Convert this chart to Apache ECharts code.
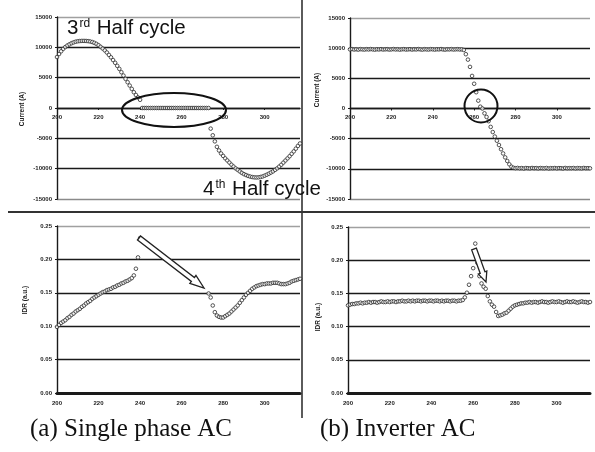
<!DOCTYPE html>
<html>
<head>
<meta charset="utf-8">
<script src="https://cdn.jsdelivr.net/npm/echarts@6/dist/echarts.min.js"></script>
<style>
html,body{margin:0;padding:0;background:#fff;}
#c{width:595px;height:452px;}
</style>
</head>
<body>
<div id="c"></div>
<script>
// ---- data ----
const timeStart = 200;      // first sample (x axis units)
const timeStep = 1;         // sampling step
const xTicks = [200, 220, 240, 260, 280, 300];

// (a) Single phase AC - current (A), samples from 200 to 317
const currentSingle = [
  8400, 8900, 9350, 9750, 10050, 10300, 10500, 10680, 10820, 10930,
  11000, 11040, 11060, 11060, 11050, 11020, 10960, 10870, 10740, 10570,
  10350, 10080, 9800, 9500, 9150, 8750, 8350, 7900, 7450, 6950,
  6450, 5900, 5350, 4800, 4250, 3700, 3150, 2600, 2150, 1750,
  1350, 0, 0, 0, 0, 0, 0, 0, 0, 0,
  0, 0, 0, 0, 0, 0, 0, 0, 0, 0,
  0, 0, 0, 0, 0, 0, 0, 0, 0, 0,
  0, 0, 0, 0, -3400, -4500, -5500, -6400, -7000, -7500,
  -7900, -8300, -8650, -9000, -9350, -9650, -9950, -10200, -10450, -10700,
  -10900, -11050, -11200, -11300, -11380, -11430, -11450, -11430, -11370, -11280,
  -11150, -11000, -10830, -10640, -10450, -10200, -9950, -9650, -9350, -9000,
  -8650, -8300, -7950, -7550, -7150, -6700, -6250, -5850
];

// (b) Inverter AC - current (A), samples from 200 to 316
const currentInverter = [
  9800, 9850, 9780, 9820, 9760, 9840, 9800, 9770, 9830, 9790,
  9850, 9800, 9760, 9820, 9790, 9840, 9780, 9810, 9830, 9770,
  9800, 9850, 9790, 9820, 9760, 9810, 9840, 9780, 9800, 9830,
  9770, 9820, 9790, 9850, 9800, 9760, 9830, 9800, 9780, 9840,
  9810, 9770, 9820, 9800, 9850, 9790, 9760, 9820, 9800, 9840,
  9780, 9810, 9830, 9790, 9800, 9700, 9000, 8100, 6900, 5400,
  4100, 2700, 1300, 300, 0, -800, -1400, -2100, -3050, -3900,
  -4650, -5340, -6050, -6750, -7450, -8100, -8700, -9250, -9650, -9830,
  -9900, -9850, -9920, -9880, -9950, -9870, -9900, -9930, -9860, -9910,
  -9880, -9940, -9870, -9900, -9920, -9860, -9950, -9890, -9910, -9870,
  -9930, -9880, -9900, -9950, -9860, -9920, -9890, -9910, -9870, -9940,
  -9880, -9900, -9930, -9860, -9910, -9890, -9920
];

// (a) Single phase AC - IDR (a.u.), first part 200..240, second part 273..317
const idrSingleStartA = 200;
const idrSingleA = [
  0.099, 0.102, 0.105, 0.107, 0.109, 0.112, 0.114, 0.117, 0.119, 0.122,
  0.124, 0.126, 0.129, 0.131, 0.134, 0.136, 0.138, 0.141, 0.143, 0.145,
  0.147, 0.149, 0.151, 0.152, 0.154, 0.155, 0.156, 0.158, 0.159, 0.161,
  0.162, 0.164, 0.165, 0.167, 0.168, 0.170, 0.172, 0.176, 0.186, 0.203,
  0.232
];
const idrSingleStartB = 273;
const idrSingleB = [
  0.149, 0.143, 0.131, 0.121, 0.116, 0.114, 0.113, 0.113, 0.115, 0.117,
  0.119, 0.122, 0.125, 0.128, 0.131, 0.135, 0.139, 0.143, 0.147, 0.150,
  0.153, 0.156, 0.158, 0.160, 0.161, 0.162, 0.163, 0.163, 0.164, 0.164,
  0.164, 0.165, 0.165, 0.165, 0.164, 0.163, 0.163, 0.163, 0.164, 0.165,
  0.167, 0.168, 0.169, 0.170, 0.171
];

// (b) Inverter AC - IDR (a.u.), samples from 200 to 316
const idrInverter = [
  0.132, 0.133, 0.134, 0.134, 0.135, 0.135, 0.136, 0.135, 0.136, 0.136,
  0.137, 0.136, 0.137, 0.137, 0.136, 0.137, 0.138, 0.137, 0.137, 0.138,
  0.137, 0.138, 0.138, 0.137, 0.138, 0.138, 0.139, 0.138, 0.138, 0.139,
  0.138, 0.139, 0.138, 0.139, 0.139, 0.138, 0.139, 0.139, 0.138, 0.139,
  0.139, 0.138, 0.139, 0.139, 0.138, 0.139, 0.138, 0.139, 0.139, 0.138,
  0.139, 0.139, 0.138, 0.139, 0.139, 0.140, 0.144, 0.151, 0.163, 0.176,
  0.188, 0.225, 0.196, 0.176, 0.165, 0.160, 0.157, 0.146, 0.138, 0.133,
  0.130, 0.122, 0.116, 0.117, 0.118, 0.120, 0.121, 0.124, 0.127, 0.130,
  0.132, 0.133, 0.134, 0.135, 0.135, 0.136, 0.136, 0.137, 0.136, 0.137,
  0.137, 0.136, 0.137, 0.138, 0.137, 0.137, 0.136, 0.137, 0.138, 0.137,
  0.137, 0.138, 0.137, 0.136, 0.137, 0.138, 0.137, 0.137, 0.138, 0.137,
  0.136, 0.137, 0.138, 0.137, 0.137, 0.136, 0.137
];

const currentTicks = [-15000, -10000, -5000, 0, 5000, 10000, 15000];
const idrTicks = [0.00, 0.05, 0.10, 0.15, 0.20, 0.25];
const yNameCurrent = 'Current (A)';
const yNameIdr = 'IDR (a.u.)';
const captionA = '(a) Single phase AC';
const captionB = '(b) Inverter AC';

// ---- build ----
function pairs(start, vals) {
  return vals.map((v, i) => [start + i * timeStep, v]);
}

const chart = echarts.init(document.getElementById('c'), null, {renderer: 'canvas'});
const ink = '#1a1a1a';
const labelStyle = {fontSize: 6, color: '#222', fontWeight: 'bold', fontFamily: 'Liberation Sans, Arial, sans-serif'};

function xAxisCfg(gi, max, labelMargin, lineW, visible) {
  return {
    type: 'value', gridIndex: gi, min: xTicks[0], max: max, interval: 20,
    show: visible,
    axisLine: {onZero: false, lineStyle: {color: ink, width: lineW}},
    axisTick: {show: true, length: 2, inside: false, lineStyle: {color: ink}},
    axisLabel: Object.assign({margin: labelMargin, showMaxLabel: false,
      formatter: v => (xTicks.indexOf(v) >= 0 ? String(v) : '')}, labelStyle),
    splitLine: {show: false}
  };
}
function yAxisCfg(gi, ticks, dec) {
  const n = ticks.length;
  const colors = ticks.map((t, i) => (i === n - 1 ? '#a0a0a0' : (i === 0 ? '#8a8a8a' : ink)));
  return {
    type: 'value', gridIndex: gi, min: ticks[0], max: ticks[n - 1],
    interval: ticks[1] - ticks[0],
    axisLine: {show: true, onZero: false, lineStyle: {color: ink, width: 1.4}},
    axisTick: {show: true, length: 2, lineStyle: {color: ink}},
    axisLabel: Object.assign({margin: 5, formatter: v => dec ? v.toFixed(2) : String(v)}, labelStyle),
    splitLine: {show: true, lineStyle: {color: colors, width: 1.3}}
  };
}
function hiddenY(gi) {
  return {type: 'value', gridIndex: gi, min: 0, max: 1, show: false};
}
function dots(xi, yi, data) {
  return {
    type: 'scatter', xAxisIndex: xi, yAxisIndex: yi, data: data,
    symbol: 'circle', symbolSize: 3.6,
    itemStyle: {color: '#fff', borderColor: '#2a2a2a', borderWidth: 1},
    silent: true, animation: false
  };
}

function hollowArrow(x1, y1, x2, y2, sw, hw, hl) {
  const dx = x2 - x1, dy = y2 - y1, L = Math.hypot(dx, dy);
  const ux = dx / L, uy = dy / L, nx = -uy, ny = ux;
  const bx = x2 - ux * hl, by = y2 - uy * hl;
  return [
    [x1 + nx * sw / 2, y1 + ny * sw / 2],
    [bx + nx * sw / 2, by + ny * sw / 2],
    [bx + nx * hw / 2, by + ny * hw / 2],
    [x2, y2],
    [bx - nx * hw / 2, by - ny * hw / 2],
    [bx - nx * sw / 2, by - ny * sw / 2],
    [x1 - nx * sw / 2, y1 - ny * sw / 2]
  ];
}

const serifFont = '"Liberation Serif", "DejaVu Serif", serif';
const sansFont = '"Liberation Sans", Arial, sans-serif';

const option = {
  backgroundColor: '#ffffff',
  animation: false,
  grid: [
    {left: 57, right: 295, top: 17, bottom: 253},
    {left: 350, right: 5, top: 18, bottom: 253},
    {left: 57, right: 295, top: 226, bottom: 59},
    {left: 348, right: 5, top: 227, bottom: 59},
    // upper halves of the current panels: their x axes cross at 0 A
    {left: 57, right: 295, top: 17, bottom: 344},
    {left: 350, right: 5, top: 18, bottom: 343.5}
  ],
  xAxis: [
    xAxisCfg(0, 317, 5, 1.4, false),
    xAxisCfg(1, 316, 5, 1.4, false),
    xAxisCfg(2, 317, 7, 3, true),
    xAxisCfg(3, 316, 7, 3, true),
    xAxisCfg(4, 317, 6, 1.4, true),
    xAxisCfg(5, 316, 6, 1.4, true)
  ],
  yAxis: [
    yAxisCfg(0, currentTicks, false),
    yAxisCfg(1, currentTicks, false),
    yAxisCfg(2, idrTicks, true),
    yAxisCfg(3, idrTicks, true),
    hiddenY(4),
    hiddenY(5)
  ],
  series: [
    dots(0, 0, pairs(timeStart, currentSingle)),
    dots(1, 1, pairs(timeStart, currentInverter)),
    dots(2, 2, pairs(idrSingleStartA, idrSingleA)),
    dots(2, 2, pairs(idrSingleStartB, idrSingleB)),
    dots(3, 3, pairs(timeStart, idrInverter))
  ],
  graphic: [
    // panel dividers
    {type: 'line', shape: {x1: 302, y1: 0, x2: 302, y2: 418}, style: {stroke: '#333', lineWidth: 1.6}},
    {type: 'line', shape: {x1: 8, y1: 212, x2: 595, y2: 212}, style: {stroke: '#333', lineWidth: 2}},
    // axis names
    {type: 'text', x: 22, y: 109, rotation: Math.PI / 2,
      style: {text: yNameCurrent, fontSize: 6.5, fontWeight: 'bold', fontFamily: sansFont, fill: '#222', textAlign: 'center', textVerticalAlign: 'middle'}},
    {type: 'text', x: 317, y: 90, rotation: Math.PI / 2,
      style: {text: yNameCurrent, fontSize: 6.5, fontWeight: 'bold', fontFamily: sansFont, fill: '#222', textAlign: 'center', textVerticalAlign: 'middle'}},
    {type: 'text', x: 25, y: 300, rotation: Math.PI / 2,
      style: {text: yNameIdr, fontSize: 6.5, fontWeight: 'bold', fontFamily: sansFont, fill: '#222', textAlign: 'center', textVerticalAlign: 'middle'}},
    {type: 'text', x: 318, y: 317, rotation: Math.PI / 2,
      style: {text: yNameIdr, fontSize: 6.5, fontWeight: 'bold', fontFamily: sansFont, fill: '#222', textAlign: 'center', textVerticalAlign: 'middle'}},
    // half-cycle annotations
    {type: 'text', x: 67, y: 39, z: 10,
      style: {
        text: '{b|3}{s|rd}{b| Half cycle}',
        textVerticalAlign: 'bottom',
        rich: {
          b: {fontSize: 20.5, fontFamily: sansFont, fill: '#111', verticalAlign: 'bottom'},
          s: {fontSize: 12, fontFamily: sansFont, fill: '#111', verticalAlign: 'top', padding: [0, 1, 0, 1]}
        }
      }},
    {type: 'text', x: 203, y: 200, z: 10,
      style: {
        text: '{b|4}{s|th}{b| Half cycle}',
        textVerticalAlign: 'bottom',
        rich: {
          b: {fontSize: 20.5, fontFamily: sansFont, fill: '#111', verticalAlign: 'bottom'},
          s: {fontSize: 12, fontFamily: sansFont, fill: '#111', verticalAlign: 'top', padding: [0, 1, 0, 1]}
        }
      }},
    // ellipse and circle highlights
    {type: 'ellipse', shape: {cx: 174, cy: 110, rx: 52, ry: 17}, style: {fill: 'none', stroke: '#111', lineWidth: 2}, z: 10},
    {type: 'circle', shape: {cx: 481, cy: 106, r: 16.5}, style: {fill: 'none', stroke: '#111', lineWidth: 2}, z: 10},
    // arrows
    {type: 'polygon', shape: {points: hollowArrow(139, 238, 204, 288, 5, 10, 14)}, style: {fill: '#fff', stroke: '#222', lineWidth: 1.3}, z: 10},
    {type: 'polygon', shape: {points: hollowArrow(474, 249, 486, 282, 5, 9, 10)}, style: {fill: '#fff', stroke: '#222', lineWidth: 1.3}, z: 10},
    // captions
    {type: 'text', x: 30, y: 429,
      style: {text: captionA, fontSize: 25, fontFamily: serifFont, fill: '#111', textVerticalAlign: 'middle'}},
    {type: 'text', x: 320, y: 429,
      style: {text: captionB, fontSize: 25, fontFamily: serifFont, fill: '#111', textVerticalAlign: 'middle'}}
  ]
};
chart.setOption(option);
</script>
</body>
</html>
